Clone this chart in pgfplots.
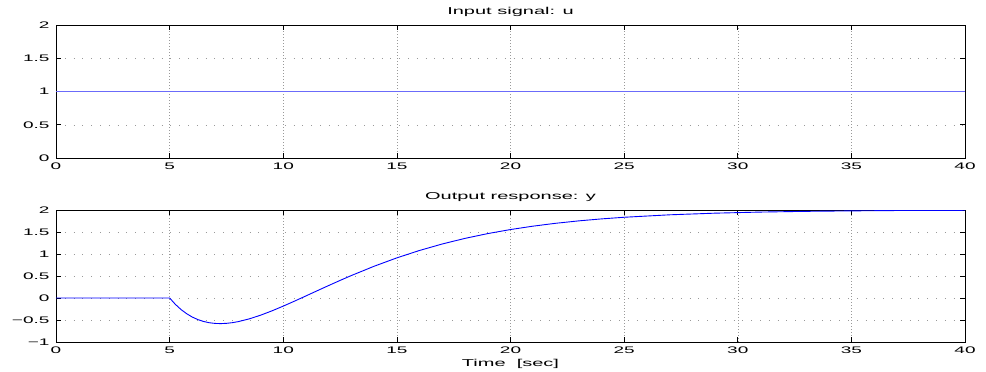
\documentclass[border=0pt]{standalone}
\usepackage{fontspec}
\setmainfont{Liberation Sans}[FakeStretch=2.0]
\usepackage{pgfplots}
\pgfplotsset{compat=1.18}
\definecolor{mblue}{rgb}{0,0,1}
\definecolor{lblue}{rgb}{0.42,0.42,0.98}
\begin{document}
\begin{tikzpicture}
\path[use as bounding box] (0,0) rectangle (986bp,-372bp);
\pgfplotsset{
  mystyle/.style={
    scale only axis,
    width=909bp,
    xmin=0, xmax=40,
    xtick={0,5,...,40},
    grid=major,
    major x grid style={gray!80, line width=0.5bp, dash pattern=on 0.8bp off 2.2bp},
    major y grid style={gray!80, line width=0.5bp, dash pattern=on 0.8bp off 8bp},
    axis line style={black, line width=0.8bp},
    tick align=inside,
    tick pos=both,
    major tick length=5bp,
    every tick/.style={black, line width=0.6bp},
    /pgf/number format/assume math mode=true,
    tick label style={font=\fontsize{9.5bp}{11bp}\selectfont},
    yticklabel style={xshift=-3bp},
    xticklabel style={yshift=-1bp},
    title style={font=\fontsize{10bp}{12bp}\selectfont, inner sep=2bp},
    label style={font=\fontsize{10bp}{12bp}\selectfont},
  }
}
\begin{axis}[mystyle,
  at={(56bp,-25bp)}, anchor=north west,
  height=133bp,
  ymin=0, ymax=2, ytick={0,0.5,1,1.5,2},
  title={Input signal: u},
]
\addplot[color=lblue, line width=1.6bp] coordinates {(0,1) (10,1) (20,1) (30,1) (40,1)};
\end{axis}
\begin{axis}[mystyle,
  at={(56bp,-210bp)}, anchor=north west,
  height=132bp,
  ymin=-1, ymax=2, ytick={-1,-0.5,0,0.5,1,1.5,2},
  yticklabels={−1,−0.5,0,0.5,1,1.5,2},
  title={Output response: y},
  xlabel={Time\ \ [sec]},
  xlabel style={yshift=1bp},
]
\addplot[color=mblue, line width=0.9bp] coordinates {
(0,0) (5,0) (5.25,-0.1430) (5.5,-0.2614) (5.75,-0.3576) (6,-0.4338)
(6.25,-0.4921) (6.5,-0.5344) (6.75,-0.5624) (7,-0.5778) (7.25,-0.5818)
(7.5,-0.5759) (7.75,-0.5613) (8,-0.5390) (8.5,-0.4751) (9,-0.3912)
(9.5,-0.2929) (10,-0.1846) (10.5,-0.0701) (11,0.0476) (11.5,0.1663)
(12,0.2840) (12.5,0.3994) (13,0.5113) (14,0.7220) (15,0.9124)
(16,1.0810) (17,1.2283) (18,1.3554) (19,1.4640) (20,1.5561)
(21,1.6337) (22,1.6987) (23,1.7528) (24,1.7978) (25,1.8349)
(27,1.8907) (29,1.9281) (31,1.9530) (33,1.9695) (35,1.9802)
(37.5,1.9900) (40,1.9934)
};
\end{axis}
\end{tikzpicture}
\end{document}
